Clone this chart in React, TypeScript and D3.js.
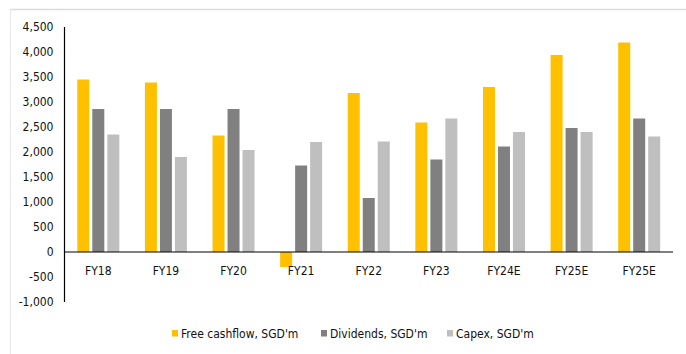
import { useEffect } from 'react';
import * as d3 from 'd3';

const categories = ['FY18', 'FY19', 'FY20', 'FY21', 'FY22', 'FY23', 'FY24E', 'FY25E', 'FY25E'];
const freeCashflow = [3450, 3390, 2330, -300, 3180, 2590, 3300, 3940, 4190];
const dividends = [2860, 2860, 2860, 1730, 1080, 1850, 2110, 2480, 2670];
const capex = [2350, 1900, 2040, 2200, 2210, 2670, 2400, 2400, 2310];
const seriesNames = ["Free cashflow, SGD'm", "Dividends, SGD'm", "Capex, SGD'm"];
const seriesColors = ['#FFC000', '#808080', '#BFBFBF'];
const yTicks = [-1000, -500, 0, 500, 1000, 1500, 2000, 2500, 3000, 3500, 4000, 4500];

const W = 686;
const H = 354;
const FONT = '"DejaVu Sans Condensed", "DejaVu Sans", sans-serif';

export default function App() {
  useEffect(() => {
    document.body.style.margin = '0';
  }, []);

  const left = 64.5;
  const right = 673;
  const top = 27;
  const bottom = 302;

  const x = d3.scaleBand<number>()
    .domain(categories.map((_, i) => i))
    .range([left, right])
    .padding(0);

  const inner = d3.scaleBand<number>()
    .domain([0, 1, 2])
    .range([0, 42])
    .paddingInner(0.2);

  const y = d3.scaleLinear().domain([-1000, 4500]).range([bottom, top]);

  const series = [freeCashflow, dividends, capex];
  const fmt = d3.format(',');

  const legendX = [172, 321, 447];

  return (
    <svg width={W} height={H} style={{ display: 'block', fontFamily: FONT }}>
      <rect width={W} height={H} fill="#ffffff" />
      {/* frame edges */}
      <line x1={10.5} x2={W} y1={9.5} y2={9.5} stroke="#dcdcdc" strokeWidth={1.5} />
      <line x1={10.5} x2={10.5} y1={9.5} y2={H} stroke="#e6e6e6" strokeWidth={1} />

      {/* bars */}
      {series.map((vals, s) =>
        vals.map((v, i) => {
          const bx = (x(i) ?? 0) + x.bandwidth() / 2 - 21 + (inner(s) ?? 0);
          const y0 = y(0);
          const yv = y(v);
          return (
            <rect
              key={`${s}-${i}`}
              x={bx}
              y={Math.min(y0, yv)}
              width={inner.bandwidth()}
              height={Math.abs(yv - y0)}
              fill={seriesColors[s]}
            />
          );
        })
      )}

      {/* y axis */}
      <line x1={left} x2={left} y1={top} y2={bottom} stroke="#000" strokeWidth={1.2} />
      {yTicks.map((t) => (
        <text
          key={t}
          x={53.5}
          y={y(t)}
          dy="0.35em"
          textAnchor="end"
          fontSize={12}
          fill="#111"
        >
          {fmt(t).replace('−', '-')}
        </text>
      ))}

      {/* zero line */}
      <line x1={left} x2={right} y1={y(0)} y2={y(0)} stroke="#000" strokeWidth={1.2} />

      {/* x labels */}
      {categories.map((c, i) => (
        <text
          key={i}
          x={(x(i) ?? 0) + x.bandwidth() / 2}
          y={274.5}
          textAnchor="middle"
          fontSize={12}
          fill="#111"
        >
          {c}
        </text>
      ))}

      {/* legend */}
      {seriesNames.map((n, s) => (
        <g key={n} transform={`translate(${legendX[s]},330)`}>
          <rect x={0} y={0} width={6} height={6.5} fill={seriesColors[s]} />
          <text x={9} y={3.3} dy="0.35em" fontSize={12} fill="#111">
            {n}
          </text>
        </g>
      ))}
    </svg>
  );
}
